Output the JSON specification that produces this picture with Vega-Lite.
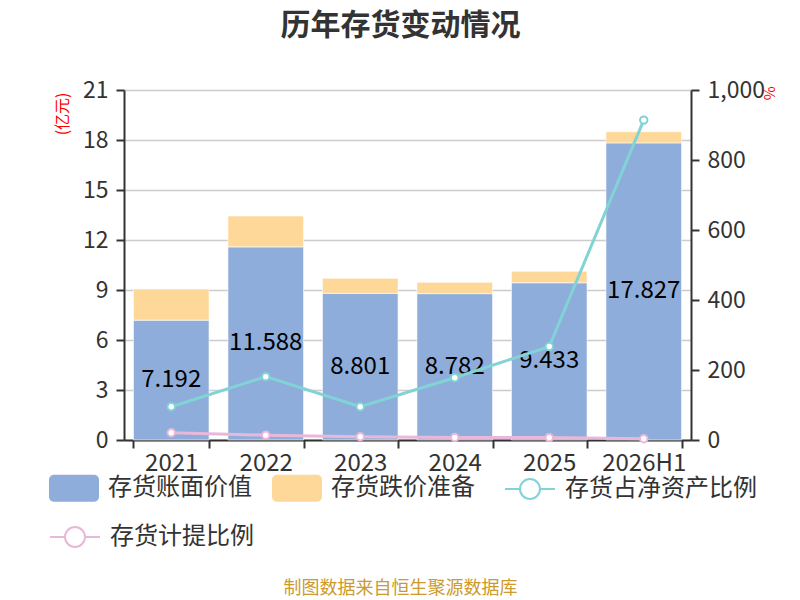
{
  "$schema": "https://vega.github.io/schema/vega-lite/v6.json",
  "autosize": {"type": "none"},
  "width": 567,
  "height": 350,
  "padding": {"left": 124, "top": 90, "right": 109, "bottom": 160},
  "background": "white",
  "title": {
    "text": "历年存货变动情况",
    "fontSize": 30,
    "fontWeight": "bold",
    "color": "#333333",
    "anchor": "middle",
    "frame": "group",
    "dx": -7,
    "offset": 38
  },
  "datasets": {
    "inv": [
      {"year": "2021", "series": "存货账面价值", "value": 7.192},
      {"year": "2021", "series": "存货跌价准备", "value": 1.87},
      {"year": "2022", "series": "存货账面价值", "value": 11.588},
      {"year": "2022", "series": "存货跌价准备", "value": 1.85},
      {"year": "2023", "series": "存货账面价值", "value": 8.801},
      {"year": "2023", "series": "存货跌价准备", "value": 0.9},
      {"year": "2024", "series": "存货账面价值", "value": 8.782},
      {"year": "2024", "series": "存货跌价准备", "value": 0.68},
      {"year": "2025", "series": "存货账面价值", "value": 9.433},
      {"year": "2025", "series": "存货跌价准备", "value": 0.69},
      {"year": "2026H1", "series": "存货账面价值", "value": 17.827},
      {"year": "2026H1", "series": "存货跌价准备", "value": 0.67}
    ],
    "ratio": [
      {"year": "2021", "series": "存货占净资产比例", "value": 95},
      {"year": "2022", "series": "存货占净资产比例", "value": 181},
      {"year": "2023", "series": "存货占净资产比例", "value": 95},
      {"year": "2024", "series": "存货占净资产比例", "value": 178},
      {"year": "2025", "series": "存货占净资产比例", "value": 267},
      {"year": "2026H1", "series": "存货占净资产比例", "value": 914},
      {"year": "2021", "series": "存货计提比例", "value": 20.6},
      {"year": "2022", "series": "存货计提比例", "value": 13.8},
      {"year": "2023", "series": "存货计提比例", "value": 9.3},
      {"year": "2024", "series": "存货计提比例", "value": 7.2},
      {"year": "2025", "series": "存货计提比例", "value": 6.8},
      {"year": "2026H1", "series": "存货计提比例", "value": 3.6}
    ]
  },
  "encoding": {
    "x": {
      "field": "year",
      "type": "nominal",
      "scale": {"paddingInner": 0.2, "paddingOuter": 0.1},
      "axis": {
        "labelAngle": 0,
        "labelFontSize": 24,
        "labelColor": "#333333",
        "labelPadding": 3,
        "tickBand": "extent",
        "tickSize": 8,
        "tickColor": "#333333",
        "tickWidth": 2,
        "domainColor": "#333333",
        "domainWidth": 2,
        "title": "制图数据来自恒生聚源数据库",
        "titleFontSize": 18,
        "titleFontWeight": "normal",
        "titleColor": "#cc9a2e",
        "titleX": 276,
        "titleY": 148,
        "titleBaseline": "middle",
        "titleAlign": "center"
      }
    }
  },
  "layer": [
    {
      "data": {"name": "inv"},
      "mark": {"type": "bar", "stroke": "white", "strokeWidth": 0.6},
      "encoding": {
        "y": {
          "field": "value",
          "type": "quantitative",
          "stack": "zero",
          "scale": {"domain": [0, 21], "nice": false},
          "axis": {
            "values": [0, 3, 6, 9, 12, 15, 18, 21],
            "labelFontSize": 23,
            "labelColor": "#333333",
            "labelPadding": 8,
            "tickSize": 8,
            "tickColor": "#333333",
            "tickWidth": 2,
            "domainColor": "#333333",
            "domainWidth": 2,
            "grid": true,
            "gridColor": "#cccccc",
            "gridWidth": 1.5,
            "title": "(亿元)",
            "titleColor": "#ff0000",
            "titleFontSize": 16,
            "titleFontWeight": "normal",
            "titleAngle": -90,
            "titleX": -62,
            "titleY": 2,
            "titleAlign": "right",
            "titleBaseline": "middle"
          }
        },
        "fill": {
          "field": "series",
          "type": "nominal",
          "scale": {
            "domain": ["存货账面价值", "存货跌价准备"],
            "range": ["#8eaddb", "#fed899"]
          },
          "legend": {
            "orient": "none",
            "legendX": -75,
            "legendY": 373,
            "direction": "horizontal",
            "title": null,
            "padding": 0,
            "symbolType": "M-0.8,-0.54H0.8A0.2,0.2,0,0,1,1,-0.34V0.34A0.2,0.2,0,0,1,0.8,0.54H-0.8A0.2,0.2,0,0,1,-1,0.34V-0.34A0.2,0.2,0,0,1,-0.8,-0.54Z",
            "symbolSize": 2500,
            "symbolStrokeWidth": 0,
            "symbolOpacity": 1,
            "labelFontSize": 24,
            "labelColor": "#333333",
            "labelOffset": 9,
            "columnPadding": 20,
            "labelLimit": 300
          }
        },
        "order": {"field": "series", "sort": "ascending"}
      }
    },
    {
      "data": {"name": "inv"},
      "transform": [{"filter": "datum.series === '存货账面价值'"}],
      "mark": {"type": "text", "fontSize": 24, "color": "#000000"},
      "encoding": {
        "y": {
          "field": "value",
          "type": "quantitative",
          "stack": null,
          "scale": {"domain": [0, 42], "nice": false},
          "axis": null
        },
        "text": {"field": "value", "type": "quantitative", "format": ".3f"}
      }
    },
    {
      "data": {"name": "ratio"},
      "transform": [{"filter": "datum.series === '存货占净资产比例'"}],
      "mark": {
        "type": "line",
        "strokeWidth": 3,
        "point": {"filled": true, "fill": "white", "size": 55, "strokeWidth": 2}
      },
      "encoding": {
        "y": {
          "field": "value",
          "type": "quantitative",
          "scale": {"domain": [0, 1000], "nice": false},
          "axis": {
            "orient": "right",
            "values": [0, 200, 400, 600, 800, 1000],
            "format": ",.0f",
            "labelFontSize": 23,
            "labelColor": "#333333",
            "labelPadding": 8,
            "tickSize": 8,
            "tickColor": "#333333",
            "tickWidth": 2,
            "domainColor": "#333333",
            "domainWidth": 2,
            "grid": false,
            "title": "%",
            "titleColor": "#ff0000",
            "titleFontSize": 15,
            "titleFontWeight": "normal",
            "titleAngle": 90,
            "titleX": 77,
            "titleY": -4,
            "titleAlign": "left",
            "titleBaseline": "middle"
          }
        },
        "stroke": {
          "field": "series",
          "type": "nominal",
          "scale": {"domain": ["存货占净资产比例"], "range": ["#82d3d6"]},
          "legend": {
            "orient": "none",
            "legendX": 380,
            "legendY": 373,
            "title": null,
            "padding": 0,
            "symbolType": "M-1,0H-0.4M0.4,0H1M0.4,0A0.4,0.4,0,1,1,-0.4,0A0.4,0.4,0,1,1,0.4,0Z",
            "symbolSize": 2500,
            "symbolStrokeWidth": 2,
            "symbolFillColor": "white",
            "labelFontSize": 24,
            "labelColor": "#333333",
            "labelOffset": 9,
            "labelLimit": 300
          }
        }
      }
    },
    {
      "data": {"name": "ratio"},
      "transform": [{"filter": "datum.series === '存货计提比例'"}],
      "mark": {
        "type": "line",
        "strokeWidth": 3,
        "point": {"filled": true, "fill": "white", "size": 55, "strokeWidth": 2}
      },
      "encoding": {
        "y": {
          "field": "value",
          "type": "quantitative",
          "scale": {"domain": [0, 1000], "nice": false},
          "axis": null
        },
        "stroke": {
          "field": "series",
          "type": "nominal",
          "scale": {"domain": ["存货计提比例"], "range": ["#e8b8da"]},
          "legend": {
            "orient": "none",
            "legendX": -75,
            "legendY": 421,
            "title": null,
            "padding": 0,
            "symbolType": "M-1,0H-0.4M0.4,0H1M0.4,0A0.4,0.4,0,1,1,-0.4,0A0.4,0.4,0,1,1,0.4,0Z",
            "symbolSize": 2500,
            "symbolStrokeWidth": 2,
            "symbolFillColor": "white",
            "labelFontSize": 24,
            "labelColor": "#333333",
            "labelOffset": 9,
            "labelLimit": 300
          }
        }
      }
    }
  ],
  "resolve": {
    "scale": {"y": "independent", "stroke": "independent"},
    "legend": {"stroke": "independent"}
  },
  "config": {
    "font": "Noto Sans CJK SC",
    "view": {"stroke": null}
  }
}
